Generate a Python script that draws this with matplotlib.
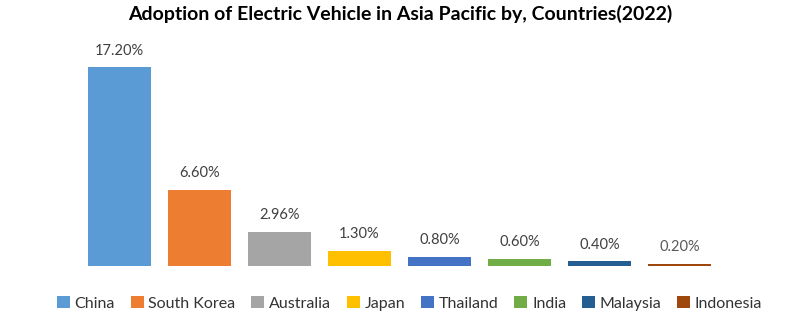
import matplotlib
matplotlib.use("Agg")
import matplotlib.pyplot as plt
from matplotlib.patches import Patch

# data
countries = ["China", "South Korea", "Australia", "Japan", "Thailand", "India", "Malaysia", "Indonesia"]
adoption = [17.20, 6.60, 2.96, 1.30, 0.80, 0.60, 0.40, 0.20]
colors = ["#5B9BD5", "#ED7D31", "#A5A5A5", "#FFC000", "#4472C4", "#70AD47", "#255E91", "#9E480E"]

plt.rcParams["font.family"] = ["Lato", "DejaVu Sans"]

fig = plt.figure(figsize=(8, 3.26), dpi=100)
# plot area in pixels: left 79.5, right 719.5, bottom at y=266
ax = fig.add_axes([79.5 / 800, (326 - 266) / 326, 640 / 800, 231 / 326])

x = range(len(countries))
bars = ax.bar(x, adoption, width=0.79, color=colors)
for i, (b, v) in enumerate(zip(bars, adoption)):
    ax.annotate("%.2f%%" % v, (b.get_x() + b.get_width() / 2, v),
                xytext=(0, 7), textcoords="offset points", ha="center", va="bottom",
                fontsize=10.5, color="#595959" if i == len(adoption) - 1 else "#404040")

ax.set_xlim(-0.5, len(countries) - 0.5)
ax.set_ylim(0, 20)
ax.axis("off")

fig.suptitle("Adoption of Electric Vehicle in Asia Pacific by, Countries(2022)",
             fontsize=14, fontweight="bold", y=0.985, color="#000000")

handles = [Patch(facecolor=c, label=n) for c, n in zip(colors, countries)]
fig.legend(handles=handles, loc="center", bbox_to_anchor=(0.512, 0.07), ncol=len(countries),
           frameon=False, fontsize=11.5, handlelength=0.8, handleheight=0.8,
           handletextpad=0.3, columnspacing=1.0, labelcolor="#333333")

fig.savefig("out.png", dpi=100)
